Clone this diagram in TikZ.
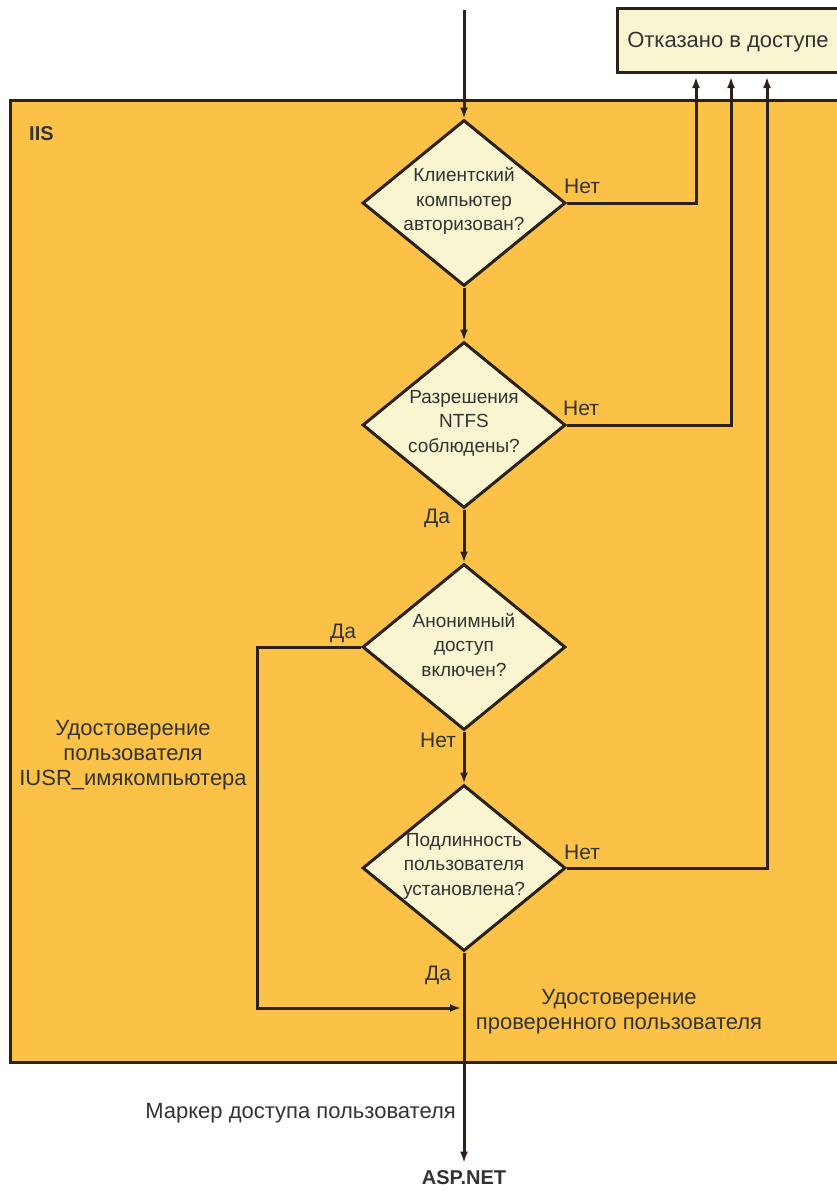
\documentclass[tikz,border=0pt]{standalone}
\usepackage{fontspec}
\setmainfont{Liberation Sans}
\usetikzlibrary{shapes.geometric,arrows.meta,calc}
\definecolor{iisfill}{HTML}{FBC247}
\definecolor{pale}{HTML}{F8F5D0}
\definecolor{ink}{HTML}{2B2116}
\definecolor{txt}{HTML}{333333}
\begin{document}
\begin{tikzpicture}[x=1pt,y=-1pt,
  line/.style={draw=ink,line width=3pt},
  arr/.style={line,-{Latex[length=11pt,width=8pt]}},
  dia/.style={diamond,draw=ink,line width=3pt,fill=pale,minimum width=203pt,minimum height=166pt,inner sep=0pt},
  dtext/.style={font=\fontsize{19}{24.5}\selectfont,text=txt,align=center,inner sep=0pt},
  lbl/.style={font=\fontsize{21}{25}\selectfont,text=txt,inner sep=0pt},
  big/.style={font=\fontsize{22}{25}\selectfont,text=txt,align=center,inner sep=0pt},
  boxstyle/.style={draw=ink,line width=3pt,inner sep=0pt}
]
\path[use as bounding box] (0,0) rectangle (837,1191);
\clip (0,0) rectangle (837,1191);
\fill[white] (0,0) rectangle (837,1191);

% IIS container
\node[boxstyle,fill=iisfill,minimum width=860pt,minimum height=962pt] (iis) at (440,581) {};
\node[font=\bfseries\fontsize{20}{24}\selectfont,text=txt,inner sep=0pt,anchor=west] (iislbl) at (29,134) {IIS};

% Denied box
\node[boxstyle,fill=pale,minimum width=260pt,minimum height=64pt] (deny) at (747,40.5) {};
\node[big] (denyt) at (728,42) {Отказано в доступе};

% Diamonds
\node[dia] (d1) at (464,203) {};
\node[dtext] (d1t) at (464,201) {Клиентский\\компьютер\\авторизован?};
\node[dia] (d2) at (464,425) {};
\node[dtext] (d2t) at (464,423) {Разрешения\\NTFS\\соблюдены?};
\node[dia] (d3) at (464,647) {};
\node[dtext] (d3t) at (464,645) {Анонимный\\доступ\\включен?};
\node[dia] (d4) at (464,868) {};
\node[dtext] (d4t) at (464,866) {Подлинность\\пользователя\\установлена?};

% entry
\coordinate (in) at (464,10);
\draw[arr] (in) -- (d1.north);

% denied risers
\coordinate (r1) at (696,77);
\coordinate (r2) at (731,77);
\coordinate (r3) at (767,77);
\draw[arr] (d1.east) -| (r1);
\draw[arr] (d2.east) -| (r2);
\draw[arr] (d4.east) -| (r3);

% main flow
\draw[arr] (d1.south) -- (d2.north);
\draw[arr] (d2.south) -- (d3.north);
\draw[arr] (d3.south) -- (d4.north);

% loop
\coordinate (j) at (464,1008);
\draw[arr,shorten >=3pt] (d3.west) -- ++(-103.5,0) |- (j);

% output
\node[font=\bfseries\fontsize{20}{24}\selectfont,text=txt,inner sep=0pt] (asp) at (464,1178) {ASP.NET};
\draw[arr,shorten >=8pt] (d4.south) -- (asp.north);

% labels
\node[lbl] (n1) at (582,186) {Нет};
\node[lbl] (n2) at (581,408) {Нет};
\node[lbl] (y2) at (437,518) {Да};
\node[lbl] (y3) at (343,633) {Да};
\node[lbl] (n3) at (438,740) {Нет};
\node[lbl] (n4) at (582,852) {Нет};
\node[lbl] (y4) at (438,975) {Да};

\node[big] (iusr) at (133,755) {Удостоверение\\пользователя\\IUSR\_имякомпьютера};
\node[big] (auth) at (619,1012) {Удостоверение\\проверенного пользователя};
\node[big,anchor=east] (token) at (456,1113) {Маркер доступа пользователя};
\end{tikzpicture}
\end{document}
